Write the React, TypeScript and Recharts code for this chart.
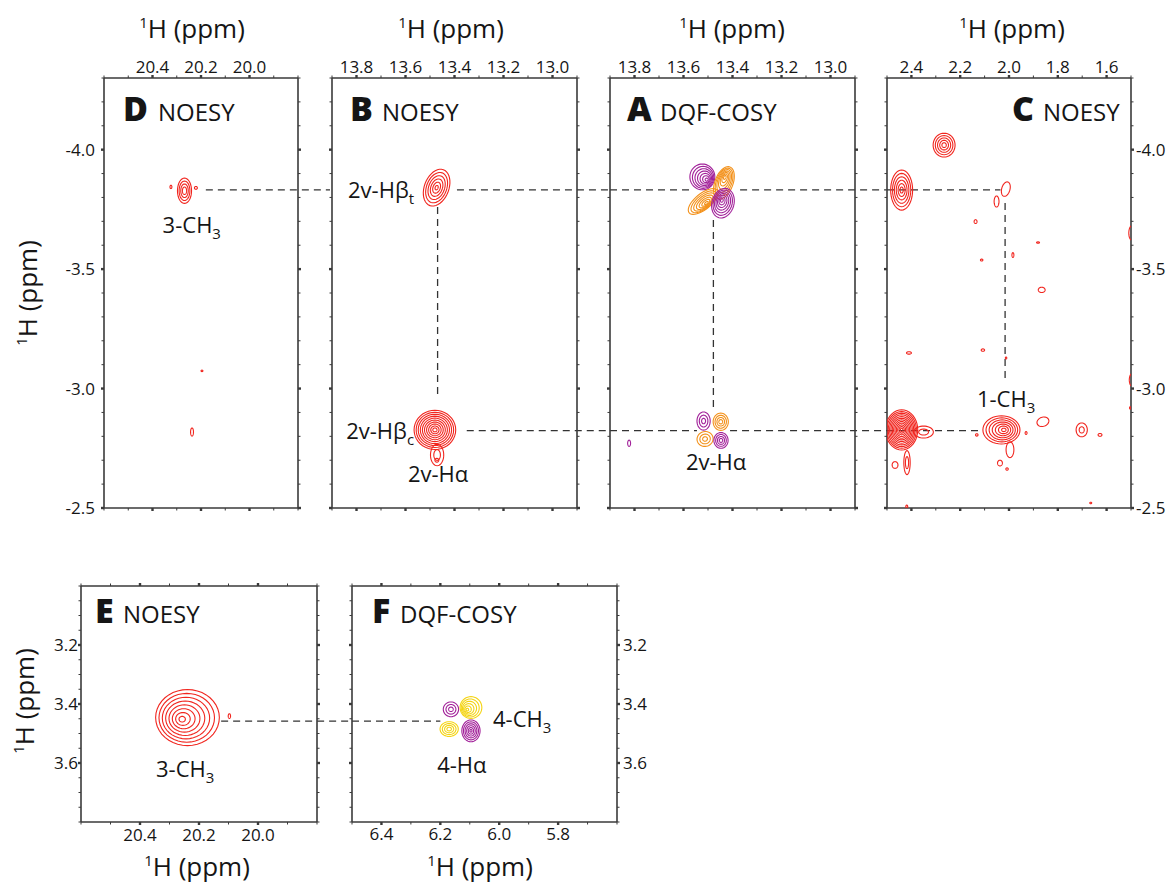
import React from 'react';
import { ComposedChart, Scatter, XAxis, YAxis, ReferenceLine, ReferenceDot } from 'recharts';

const FONT = "'Open Sans', 'Noto Sans', 'DejaVu Sans', sans-serif";
const INK = '#3a3a3a';
const TEXT = '#151515';
const RED = '#f1261f';
const PURPLE = '#a2229a';
const ORANGE = '#f3911a';
const YELLOW = '#f4d414';

// ---------- axis ticks (ppm) ----------
const X_TICKS_CH3 = [20.6, 20.5, 20.4, 20.3, 20.2, 20.1, 20.0, 19.9, 19.8];
const X_LABELS_CH3 = [20.4, 20.2, 20.0];
const X_TICKS_2V = [13.9, 13.8, 13.7, 13.6, 13.5, 13.4, 13.3, 13.2, 13.1, 13.0, 12.9];
const X_LABELS_2V = [13.8, 13.6, 13.4, 13.2, 13.0];
const X_TICKS_ALIPH = [2.5, 2.4, 2.3, 2.2, 2.1, 2.0, 1.9, 1.8, 1.7, 1.6, 1.5];
const X_LABELS_ALIPH = [2.4, 2.2, 2.0, 1.8, 1.6];
const X_TICKS_4HA = [6.5, 6.4, 6.3, 6.2, 6.1, 6.0, 5.9, 5.8, 5.7, 5.6];
const X_LABELS_4HA = [6.4, 6.2, 6.0, 5.8];
const Y_TICKS_UPFIELD = [-4.3, -4.2, -4.1, -4.0, -3.9, -3.8, -3.7, -3.6, -3.5, -3.4, -3.3, -3.2, -3.1, -3.0, -2.9, -2.8, -2.7, -2.6, -2.5];
const Y_LABELS_UPFIELD = [-4.0, -3.5, -3.0, -2.5];
const Y_TICKS_4CH3 = [3.0, 3.05, 3.1, 3.15, 3.2, 3.25, 3.3, 3.35, 3.4, 3.45, 3.5, 3.55, 3.6, 3.65, 3.7, 3.75, 3.8];
const Y_LABELS_4CH3 = [3.2, 3.4, 3.6];

// ---------- cross peaks ----------
// x, y: apex (ppm); a, b: outer half-widths (ppm, horizontal / vertical);
// n: contour levels; sign: phase; rot: tilt (deg); ox, oy: drift of outer contours
type Peak = { x: number; y: number; a: number; b: number; n: number; sign?: number; rot?: number; ox?: number; oy?: number; core?: number };

const PEAKS_D: Peak[] = [
  { x: 20.268, y: -3.828, a: 0.029, b: 0.053, n: 4, core: 0.3 },
  { x: 20.324, y: -3.844, a: 0.004, b: 0.007, n: 1 },
  { x: 20.221, y: -3.84, a: 0.006, b: 0.006, n: 1 },
  { x: 20.196, y: -3.074, a: 0.004, b: 0.003, n: 1 },
  { x: 20.237, y: -2.818, a: 0.006, b: 0.017, n: 1 },
];

const PEAKS_B: Peak[] = [
  { x: 13.473, y: -3.841, a: 0.05, b: 0.08, n: 6, rot: 20, core: 0.12 },
  { x: 13.48, y: -2.827, a: 0.085, b: 0.082, n: 10, core: 0.1 },
  { x: 13.471, y: -2.722, a: 0.027, b: 0.045, n: 2, core: 0.5 },
  { x: 13.472, y: -2.7, a: 0.008, b: 0.008, n: 1 },
];

const PEAKS_A: Peak[] = [
  { x: 13.503, y: -3.873, a: 0.051, b: 0.054, n: 7, sign: -1, ox: -0.02, oy: -0.013, core: 0.12 },
  { x: 13.431, y: -3.887, a: 0.037, b: 0.071, n: 7, sign: 1, rot: 20, ox: -0.004, oy: 0.026, core: 0.12 },
  { x: 13.505, y: -3.776, a: 0.074, b: 0.033, n: 7, sign: 1, rot: -40, ox: -0.015, oy: -0.007, core: 0.12 },
  { x: 13.444, y: -3.789, a: 0.045, b: 0.063, n: 7, sign: -1, rot: 15, ox: 0.005, oy: 0.013, core: 0.12 },
  { x: 13.518, y: -2.864, a: 0.027, b: 0.038, n: 3, sign: -1, core: 0.3 },
  { x: 13.448, y: -2.861, a: 0.031, b: 0.036, n: 4, sign: 1, core: 0.25 },
  { x: 13.512, y: -2.789, a: 0.033, b: 0.031, n: 3, sign: 1, rot: -20, core: 0.3 },
  { x: 13.447, y: -2.783, a: 0.029, b: 0.033, n: 4, sign: -1, core: 0.25 },
  { x: 13.822, y: -2.771, a: 0.006, b: 0.013, n: 1, sign: -1 },
];

const PEAKS_C: Peak[] = [
  { x: 2.266, y: -4.019, a: 0.045, b: 0.05, n: 5, core: 0.2 },
  { x: 2.44, y: -3.831, a: 0.045, b: 0.084, n: 6, core: 0.15 },
  { x: 2.013, y: -3.835, a: 0.017, b: 0.031, n: 1, rot: 15 },
  { x: 2.051, y: -3.783, a: 0.01, b: 0.023, n: 1 },
  { x: 2.137, y: -3.699, a: 0.006, b: 0.008, n: 1 },
  { x: 2.112, y: -3.538, a: 0.005, b: 0.004, n: 1 },
  { x: 1.881, y: -3.611, a: 0.006, b: 0.003, n: 1 },
  { x: 1.984, y: -3.559, a: 0.004, b: 0.01, n: 1 },
  { x: 1.866, y: -3.413, a: 0.014, b: 0.011, n: 1 },
  { x: 2.107, y: -3.161, a: 0.007, b: 0.005, n: 1 },
  { x: 2.41, y: -3.149, a: 0.01, b: 0.005, n: 1 },
  { x: 2.012, y: -3.128, a: 0.003, b: 0.004, n: 1 },
  { x: 1.497, y: -3.651, a: 0.012, b: 0.03, n: 1 },
  { x: 1.497, y: -3.036, a: 0.01, b: 0.025, n: 1 },
  { x: 1.503, y: -2.919, a: 0.003, b: 0.005, n: 1 },
  { x: 2.44, y: -2.827, a: 0.066, b: 0.084, n: 12, core: 0.08 },
  { x: 2.35, y: -2.818, a: 0.04, b: 0.025, n: 2, core: 0.5 },
  { x: 2.418, y: -2.69, a: 0.013, b: 0.05, n: 2, core: 0.5 },
  { x: 2.467, y: -2.68, a: 0.012, b: 0.014, n: 1 },
  { x: 2.419, y: -2.506, a: 0.004, b: 0.006, n: 1 },
  { x: 2.02, y: -2.827, a: 0.076, b: 0.059, n: 7, ox: -0.011, core: 0.12 },
  { x: 1.996, y: -2.744, a: 0.016, b: 0.033, n: 1 },
  { x: 2.132, y: -2.806, a: 0.005, b: 0.005, n: 1 },
  { x: 1.93, y: -2.814, a: 0.004, b: 0.006, n: 1 },
  { x: 1.861, y: -2.861, a: 0.025, b: 0.019, n: 1, rot: -20 },
  { x: 1.702, y: -2.827, a: 0.023, b: 0.029, n: 2, core: 0.45 },
  { x: 1.627, y: -2.806, a: 0.008, b: 0.006, n: 1 },
  { x: 2.037, y: -2.688, a: 0.01, b: 0.012, n: 1 },
  { x: 2.008, y: -2.663, a: 0.005, b: 0.005, n: 1 },
  { x: 1.665, y: -2.521, a: 0.004, b: 0.003, n: 1 },
];

const PEAKS_E: Peak[] = [
  { x: 20.259, y: 3.452, a: 0.108, b: 0.095, n: 8, ox: 0.02, oy: -0.006, core: 0.1 },
  { x: 20.097, y: 3.441, a: 0.004, b: 0.008, n: 1 },
];

const PEAKS_F: Peak[] = [
  { x: 6.164, y: 3.418, a: 0.026, b: 0.025, n: 3, sign: -1, core: 0.3 },
  { x: 6.11, y: 3.42, a: 0.037, b: 0.037, n: 6, sign: 1, ox: 0.014, oy: -0.008, core: 0.12 },
  { x: 6.17, y: 3.485, a: 0.031, b: 0.025, n: 4, sign: 1, core: 0.25 },
  { x: 6.096, y: 3.491, a: 0.031, b: 0.037, n: 6, sign: -1, core: 0.12 },
];

// ---------- connectivity guides (ppm segments) ----------
type Seg = [[number, number], [number, number]];
const LINKS_D: Seg[] = [[[20.18, -3.832], [19.668, -3.832]]];
const LINKS_B: Seg[] = [
  [[13.39, -3.832], [12.765, -3.832]],
  [[13.35, -2.824], [12.765, -2.824]],
  [[13.469, -3.76], [13.469, -2.96]],
];
const LINKS_A: Seg[] = [
  [[13.9, -3.832], [13.573, -3.832]],
  [[13.369, -3.832], [12.77, -3.832]],
  [[13.9, -2.824], [13.545, -2.824]],
  [[13.41, -2.824], [12.77, -2.824]],
  [[13.478, -3.706], [13.478, -2.921]],
];
const LINKS_C: Seg[] = [
  [[2.5, -3.832], [2.035, -3.832]],
  [[2.5, -2.824], [2.117, -2.824]],
  [[2.016, -3.777], [2.016, -3.044]],
];
const LINKS_E: Seg[] = [[[20.125, 3.458], [19.681, 3.458]]];
const LINKS_F: Seg[] = [[[6.5, 3.458], [6.2, 3.458]]];

// ---------- assignments ----------
type Note = { x: number; y: number; text: string; sub?: string; anchor: 'start' | 'middle' | 'end' };
const NOTES_D: Note[] = [{ x: 20.238, y: -3.651, text: '3-CH', sub: '3', anchor: 'middle' }];
const NOTES_B: Note[] = [
  { x: 13.565, y: -3.798, text: '2v-Hβ', sub: 't', anchor: 'end' },
  { x: 13.565, y: -2.789, text: '2v-Hβ', sub: 'c', anchor: 'end' },
  { x: 13.467, y: -2.609, text: '2v-Hα', anchor: 'middle' },
];
const NOTES_A: Note[] = [{ x: 13.467, y: -2.659, text: '2v-Hα', anchor: 'middle' }];
const NOTES_C: Note[] = [{ x: 2.012, y: -2.923, text: '1-CH', sub: '3', anchor: 'middle' }];
const NOTES_E: Note[] = [{ x: 20.247, y: 3.647, text: '3-CH', sub: '3', anchor: 'middle' }];
const NOTES_F: Note[] = [
  { x: 6.021, y: 3.478, text: '4-CH', sub: '3', anchor: 'start' },
  { x: 6.127, y: 3.634, text: '4-Hα', anchor: 'middle' },
];

// ---------- contour rings ----------
const SEG = 40;
function contourRings(p: Peak) {
  const rings: { x: number; y: number }[][] = [];
  const th = ((p.rot ?? 0) * Math.PI) / 180;
  const core = p.core ?? 0.2;
  for (let i = 0; i < p.n; i++) {
    const s = p.n === 1 ? 1 : 1 - (i * (1 - core)) / (p.n - 1);
    const offX = (p.ox ?? 0) * s;
    const offY = (p.oy ?? 0) * s;
    const ring: { x: number; y: number }[] = [];
    for (let k = 0; k < SEG; k++) {
      const t = (2 * Math.PI * k) / SEG;
      const u = p.a * s * Math.cos(t);
      const v = p.b * s * Math.sin(t);
      const dx = u * Math.cos(th) - v * Math.sin(th) + offX;
      const dy = u * Math.sin(th) + v * Math.cos(th) + offY;
      // screen right = lower ppm, screen down = higher ppm
      ring.push({ x: p.x - dx, y: p.y + dy });
    }
    rings.push(ring);
  }
  return rings;
}

const NoDot = () => <g />;

function isMajor(majors: number[], v: number) {
  return majors.some((m) => Math.abs(m - v) < 1e-6);
}

// x ticks: drawn from the bottom axis for both frame edges (bottom at y, top at y - h)
function XTick(props: any) {
  const { x, y, payload, majors, labelSide, gap, h } = props;
  const v: number = payload.value;
  const major = isMajor(majors, v);
  const len = major ? 3 : 2.5;
  const sw = major ? 2.4 : 1;
  const yTop = y - h;
  return (
    <g>
      <line x1={x} y1={y} x2={x} y2={y + len} stroke={INK} strokeWidth={sw} />
      <line x1={x} y1={yTop} x2={x} y2={yTop - len} stroke={INK} strokeWidth={sw} />
      {major ? (
        <text x={x} y={labelSide === 'top' ? yTop - gap : y + gap} textAnchor="middle" fontFamily={FONT} fontSize={17} fill={TEXT}>
          {v.toFixed(1)}
        </text>
      ) : null}
    </g>
  );
}

function YTick(props: any) {
  const { x, y, payload, majors, side, show, gap } = props;
  const v: number = payload.value;
  const major = isMajor(majors, v);
  const len = major ? 3 : 2.5;
  const sw = major ? 2.4 : 1;
  const dir = side === 'left' ? -1 : 1;
  return (
    <g>
      <line x1={x} y1={y} x2={x + dir * len} y2={y} stroke={INK} strokeWidth={sw} />
      {show && major ? (
        <text x={x + dir * gap} y={y + 6} textAnchor={side === 'left' ? 'end' : 'start'} fontFamily={FONT} fontSize={17} fill={TEXT}>
          {v.toFixed(1)}
        </text>
      ) : null}
    </g>
  );
}

function noteShape(n: Note) {
  return (props: any) => (
    <text x={props.cx} y={props.cy} textAnchor={n.anchor} fontFamily={FONT} fontSize={22} fill={TEXT}>
      {n.text}
      {n.sub ? (
        <tspan fontSize={15} dy={6}>
          {n.sub}
        </tspan>
      ) : null}
    </text>
  );
}

type PanelSpec = {
  left: number; top: number; w: number; h: number;
  xDomain: [number, number]; yDomain: [number, number];
  xTicks: number[]; xLabels: number[]; yTicks: number[]; yLabels: number[];
  xSide: 'top' | 'bottom'; ySide: 'left' | 'right' | 'none'; yGap: number; xGap: number;
  peaks: Peak[]; pos: string; neg: string; links: Seg[]; notes: Note[];
};

// chart margin around the plot frame; each axis band is 1px thick
const M = 50;
const AX = 1;

function Panel({ spec }: { spec: PanelSpec }) {
  const series = spec.peaks.flatMap((p) =>
    contourRings(p).map((ring) => ({ ring, color: (p.sign ?? 1) < 0 ? spec.neg : spec.pos }))
  );
  const axisLine = { stroke: INK, strokeWidth: 1.6 };
  const common = { type: 'number' as const, allowDataOverflow: true, reversed: true, interval: 0 as const, tickSize: 0, tickMargin: 0, tickLine: false, axisLine };
  const m = M - AX;
  return (
    <div style={{ position: 'absolute', left: spec.left - M, top: spec.top - M }}>
      <ComposedChart width={spec.w + 2 * M} height={spec.h + 2 * M} margin={{ top: m, right: m, bottom: m, left: m }}>
        <XAxis {...common} xAxisId="b" orientation="bottom" dataKey="x" domain={spec.xDomain} ticks={spec.xTicks} height={AX}
          tick={(p: any) => <XTick {...p} majors={spec.xLabels} labelSide={spec.xSide} gap={spec.xGap} h={spec.h} />} />
        <XAxis {...common} xAxisId="t" orientation="top" domain={spec.xDomain} ticks={spec.xTicks} height={AX} tick={false} />
        <YAxis {...common} yAxisId="l" orientation="left" dataKey="y" domain={spec.yDomain} ticks={spec.yTicks} width={AX}
          tick={(p: any) => <YTick {...p} side="left" majors={spec.yLabels} show={spec.ySide === 'left'} gap={spec.yGap} />} />
        <YAxis {...common} yAxisId="r" orientation="right" domain={spec.yDomain} ticks={spec.yTicks} width={AX}
          tick={(p: any) => <YTick {...p} side="right" majors={spec.yLabels} show={spec.ySide === 'right'} gap={spec.yGap} />} />
        {spec.links.map((s, i) => (
          <ReferenceLine key={`l${i}`} xAxisId="b" yAxisId="l" ifOverflow="visible"
            segment={[{ x: s[0][0], y: s[0][1] }, { x: s[1][0], y: s[1][1] }]}
            stroke="#333" strokeWidth={1.3} strokeDasharray="7 5" />
        ))}
        {series.map((s, i) => (
          <Scatter key={`c${i}`} xAxisId="b" yAxisId="l" data={s.ring} isAnimationActive={false}
            shape={NoDot} line={{ stroke: s.color, strokeWidth: 1.1, fill: 'none' }} lineJointType="linearClosed" />
        ))}
        {spec.notes.map((n, i) => (
          <ReferenceDot key={`n${i}`} xAxisId="b" yAxisId="l" x={n.x} y={n.y} r={0} ifOverflow="visible" shape={noteShape(n)} />
        ))}
      </ComposedChart>
    </div>
  );
}

const TOP_Y: [number, number] = [-4.3, -2.5];
const BOT_Y: [number, number] = [3.0, 3.8];

const PANELS: PanelSpec[] = [
  { left: 104, top: 78, w: 194, h: 430, xDomain: [19.8, 20.6], yDomain: TOP_Y, xTicks: X_TICKS_CH3, xLabels: X_LABELS_CH3,
    yTicks: Y_TICKS_UPFIELD, yLabels: Y_LABELS_UPFIELD, xSide: 'top', ySide: 'left', yGap: 9, xGap: 5,
    peaks: PEAKS_D, pos: RED, neg: RED, links: LINKS_D, notes: NOTES_D },
  { left: 332, top: 78, w: 245, h: 430, xDomain: [12.9, 13.9], yDomain: TOP_Y, xTicks: X_TICKS_2V, xLabels: X_LABELS_2V,
    yTicks: Y_TICKS_UPFIELD, yLabels: Y_LABELS_UPFIELD, xSide: 'top', ySide: 'none', yGap: 6, xGap: 5,
    peaks: PEAKS_B, pos: RED, neg: RED, links: LINKS_B, notes: NOTES_B },
  { left: 610, top: 78, w: 245, h: 430, xDomain: [12.9, 13.9], yDomain: TOP_Y, xTicks: X_TICKS_2V, xLabels: X_LABELS_2V,
    yTicks: Y_TICKS_UPFIELD, yLabels: Y_LABELS_UPFIELD, xSide: 'top', ySide: 'none', yGap: 6, xGap: 5,
    peaks: PEAKS_A, pos: ORANGE, neg: PURPLE, links: LINKS_A, notes: NOTES_A },
  { left: 887, top: 78, w: 244, h: 430, xDomain: [1.5, 2.5], yDomain: TOP_Y, xTicks: X_TICKS_ALIPH, xLabels: X_LABELS_ALIPH,
    yTicks: Y_TICKS_UPFIELD, yLabels: Y_LABELS_UPFIELD, xSide: 'top', ySide: 'right', yGap: 5, xGap: 5,
    peaks: PEAKS_C, pos: RED, neg: RED, links: LINKS_C, notes: NOTES_C },
  { left: 81, top: 586, w: 236, h: 236, xDomain: [19.8, 20.6], yDomain: BOT_Y, xTicks: X_TICKS_CH3, xLabels: X_LABELS_CH3,
    yTicks: Y_TICKS_4CH3, yLabels: Y_LABELS_4CH3, xSide: 'bottom', ySide: 'left', yGap: 3, xGap: 19,
    peaks: PEAKS_E, pos: RED, neg: RED, links: LINKS_E, notes: NOTES_E },
  { left: 352, top: 586, w: 265, h: 236, xDomain: [5.6, 6.5], yDomain: BOT_Y, xTicks: X_TICKS_4HA, xLabels: X_LABELS_4HA,
    yTicks: Y_TICKS_4CH3, yLabels: Y_LABELS_4CH3, xSide: 'bottom', ySide: 'right', yGap: 6, xGap: 18,
    peaks: PEAKS_F, pos: YELLOW, neg: PURPLE, links: LINKS_F, notes: NOTES_F },
];

const PANEL_TITLES = [
  { letter: 'D', name: 'NOESY', lx: 123, nx: 158, y: 121 },
  { letter: 'B', name: 'NOESY', lx: 350, nx: 382, y: 121 },
  { letter: 'A', name: 'DQF-COSY', lx: 627, nx: 660, y: 121 },
  { letter: 'C', name: 'NOESY', lx: 1012, nx: 1043, y: 121 },
  { letter: 'E', name: 'NOESY', lx: 95, nx: 123, y: 623 },
  { letter: 'F', name: 'DQF-COSY', lx: 372, nx: 400, y: 623 },
];

const AXIS_TITLES = [
  { x: 192, y: 38, rot: false },
  { x: 451, y: 38, rot: false },
  { x: 732, y: 38, rot: false },
  { x: 1012, y: 38, rot: false },
  { x: 197, y: 876, rot: false },
  { x: 480, y: 876, rot: false },
  { x: 37, y: 293, rot: true },
  { x: 34, y: 701, rot: true },
];

function AxisTitle({ x, y, rot }: { x: number; y: number; rot: boolean }) {
  return (
    <text x={x} y={y} textAnchor="middle" fontFamily={FONT} fontSize={26} fill={TEXT}
      transform={rot ? `rotate(-90 ${x} ${y})` : undefined}>
      <tspan fontSize={15} dy={-10}>1</tspan>
      <tspan dy={10}>H (ppm)</tspan>
    </text>
  );
}

export default function App() {
  return (
    <div style={{ position: 'absolute', left: 0, top: 0, width: 1170, height: 886, background: '#fff', overflow: 'hidden' }}>
      {PANELS.map((p, i) => (
        <Panel key={i} spec={p} />
      ))}
      <svg width={1170} height={886} style={{ position: 'absolute', left: 0, top: 0, pointerEvents: 'none' }}>
        {PANEL_TITLES.map((t, i) => (
          <g key={i}>
            <text x={t.lx} y={t.y} fontFamily={FONT} fontSize={34} fontWeight={800} fill={TEXT}>{t.letter}</text>
            <text x={t.nx} y={t.y} fontFamily={FONT} fontSize={24} fill={TEXT}>{t.name}</text>
          </g>
        ))}
        {AXIS_TITLES.map((a, i) => (
          <AxisTitle key={i} {...a} />
        ))}
      </svg>
    </div>
  );
}
